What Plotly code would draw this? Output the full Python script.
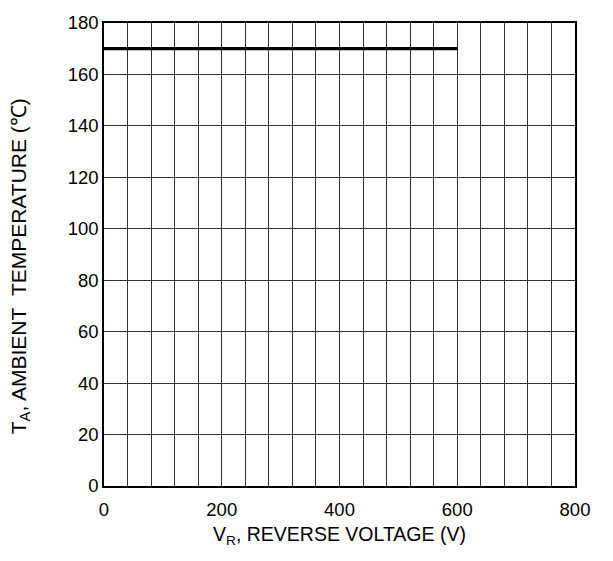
import plotly.graph_objects as go

x_vals = [0, 600]
y_vals = [170, 170]
x_ticks = [0, 200, 400, 600, 800]
y_ticks = [0, 20, 40, 60, 80, 100, 120, 140, 160, 180]

fig = go.Figure()
fig.add_trace(go.Scatter(x=x_vals, y=y_vals, mode="lines",
                         line=dict(color="black", width=3.2), showlegend=False))

fam = "Liberation Sans, Arial, sans-serif"
tick_font = dict(family=fam, size=18.5, color="black")
fig.update_layout(
    width=613, height=561,
    margin=dict(l=104, r=38, t=14, b=75),
    paper_bgcolor="white", plot_bgcolor="white",
    font=tick_font,
    xaxis=dict(range=[0, 800], tickvals=x_ticks, tickfont=tick_font,
               showgrid=True, gridcolor="#333333", gridwidth=1,
               showline=True, linecolor="black", linewidth=1.5, mirror=True,
               zeroline=False, ticks="outside", ticklen=6, tickcolor="rgba(0,0,0,0)"),
    yaxis=dict(range=[0, 180], tickvals=y_ticks, tickfont=tick_font,
               showgrid=True, gridcolor="#333333", gridwidth=1,
               showline=True, linecolor="black", linewidth=1.5, mirror=True,
               zeroline=False, ticks=""),
    annotations=[
        dict(text="V<sub>R</sub>, REVERSE VOLTAGE (V)", xref="paper", yref="paper",
             x=0.5, y=-0.107, xanchor="center", yanchor="middle", showarrow=False,
             font=dict(family=fam, size=19.5, color="black")),
        dict(text="T<sub>A</sub>, AMBIENT&nbsp;&nbsp;TEMPERATURE (℃)", xref="paper", yref="paper",
             x=-0.178, y=0.475, xanchor="center", yanchor="middle", textangle=-90, showarrow=False,
             font=dict(family=fam, size=21, color="black")),
    ],
)
fig.update_xaxes(minor=dict(dtick=40, tick0=0, showgrid=True, gridcolor="#333333", gridwidth=1))
fig.write_html("out.html")
